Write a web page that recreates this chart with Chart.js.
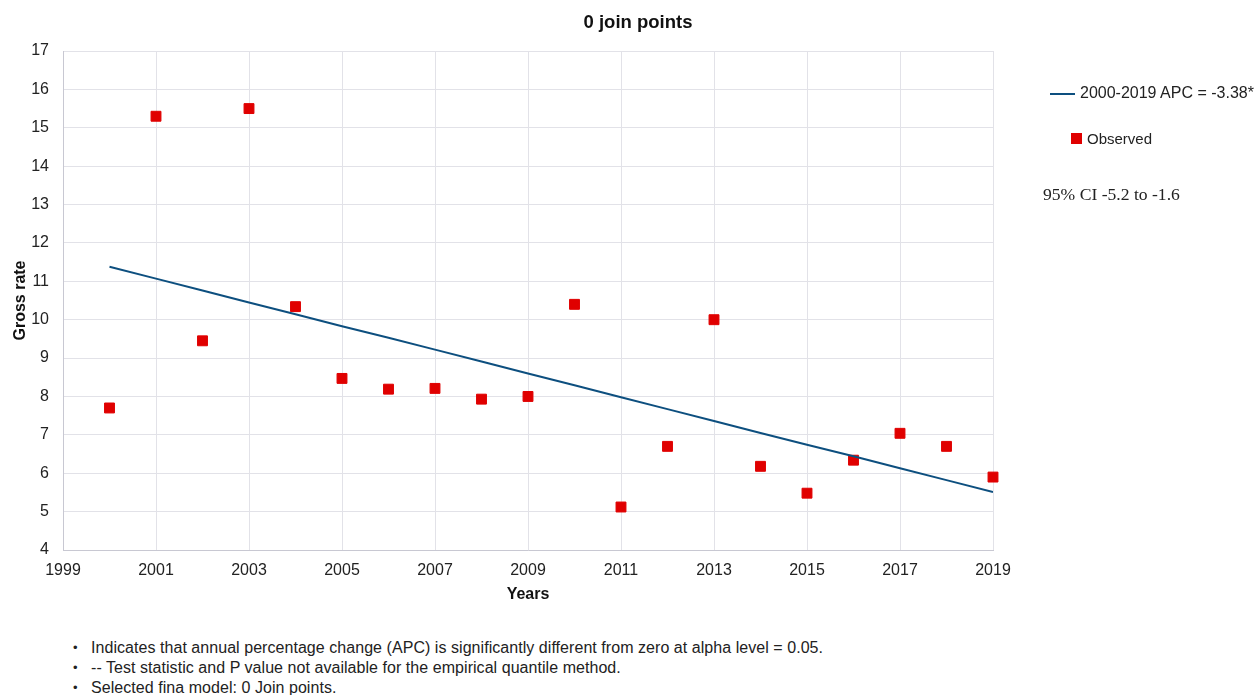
<!DOCTYPE html>
<html>
<head>
<meta charset="utf-8">
<script src="https://cdn.jsdelivr.net/npm/chart.js@4.4.1/dist/chart.umd.min.js"></script>
<style>
  html, body { margin: 0; padding: 0; background: #fff; }
  body { width: 1256px; height: 695px; position: relative; overflow: hidden;
         font-family: "Liberation Sans", Arial, sans-serif; color: #222; }
  #wrap { position: absolute; left: 0; top: 0; width: 1256px; height: 610px; }
  .title { position: absolute; left: 438px; width: 400px; top: 11px; text-align: center;
           font-size: 18.5px; font-weight: bold; color: #111; }
  .legend { position: absolute; color: #222; white-space: nowrap; line-height: 20px; }
  .legend .line { display: inline-block; width: 25px; height: 2px; background: #0d4f7f; vertical-align: middle; margin-right: 5px; }
  .legend .sq { display: inline-block; width: 11px; height: 11px; background: #e00000; vertical-align: middle; margin-right: 5px; position: relative; top: -2px; }
  .ci { position: absolute; left: 1043px; top: 184px; font-family: "Liberation Serif", "Times New Roman", serif; font-size: 17.6px; color: #222; }
  .note { position: absolute; left: 91px; font-size: 16px; line-height: 20px; color: #222; white-space: nowrap; letter-spacing: 0.05px; }
  .note::before { content: "\2022"; position: absolute; left: -18px; font-size: 13px; }
</style>
</head>
<body>
<div id="wrap"><canvas id="chart"></canvas></div>
<div class="title" id="title"></div>
<div class="legend" style="left:1050px; top:83px; font-size:16px;"><span class="line"></span>2000-2019 APC = -3.38*</div>
<div class="legend" style="left:1071px; top:129px; font-size:15px;"><span class="sq"></span>Observed</div>
<div class="ci">95% CI -5.2 to -1.6</div>
<div class="note" style="top:638px;">Indicates that annual percentage change (APC) is significantly different from zero at alpha level = 0.05.</div>
<div class="note" style="top:658px;">-- Test statistic and P value not available for the empirical quantile method.</div>
<div class="note" style="top:678px;">Selected fina model: 0 Join points.</div>
<script>
const years = [2000, 2001, 2002, 2003, 2004, 2005, 2006, 2007, 2008, 2009,
               2010, 2011, 2012, 2013, 2014, 2015, 2016, 2017, 2018, 2019];
const observed = [7.7, 15.3, 9.45, 15.5, 10.34, 8.47, 8.19, 8.21, 7.93, 8.0,
                  10.4, 5.12, 6.7, 10.0, 6.18, 5.48, 6.34, 7.04, 6.7, 5.9];
const modeled = [11.38, 11.07, 10.76, 10.45, 10.14, 9.83, 9.53, 9.22, 8.91, 8.60,
                 8.29, 7.98, 7.67, 7.36, 7.05, 6.74, 6.44, 6.13, 5.82, 5.51];
const titleText = "0 join points";
const xTitle = "Years";
const yTitle = "Gross rate";

document.getElementById("title").textContent = titleText;

Chart.defaults.font.family = "'Liberation Sans', Arial, sans-serif";
Chart.defaults.font.size = 16;
Chart.defaults.color = "#222";

const gridColor = "#e2e2e8";

new Chart(document.getElementById("chart"), {
  type: "scatter",
  data: {
    datasets: [
      {
        label: "2000-2019 APC = -3.38*",
        type: "line",
        data: years.map((y, i) => ({ x: y, y: modeled[i] })),
        borderColor: "#0d4f7f",
        borderWidth: 2,
        pointRadius: 0,
        fill: false,
        tension: 0,
      },
      {
        label: "Observed",
        data: years.map((y, i) => ({ x: y, y: observed[i] })),
        backgroundColor: "#e00000",
        borderColor: "#e00000",
        pointStyle: "rect",
        pointRadius: 7,
        pointHoverRadius: 7,
        clip: false,
      },
    ],
  },
  options: {
    responsive: true,
    maintainAspectRatio: false,
    animation: false,
    layout: { padding: { left: 0, right: 263, top: 51, bottom: 6 } },
    plugins: {
      legend: { display: false },
      tooltip: { enabled: false },
    },
    scales: {
      x: {
        type: "linear",
        min: 1999,
        max: 2019,
        ticks: { stepSize: 2, padding: 11, callback: v => String(v) },
        grid: { color: gridColor, drawTicks: false },
        border: { color: "#c8c8d2" },
        title: { display: true, text: xTitle, font: { size: 16, weight: "bold" }, color: "#111", padding: { top: 0, bottom: 0 } },
        afterFit: s => { s.height = 54; },
      },
      y: {
        min: 4,
        max: 17,
        ticks: { stepSize: 1, padding: 14 },
        grid: { color: gridColor, drawTicks: false },
        border: { color: "#c8c8d2" },
        title: { display: true, text: yTitle, font: { size: 16, weight: "bold" }, color: "#111", padding: { top: 11, bottom: 0 } },
        afterFit: s => { s.width = 63; },
      },
    },
  },
});
</script>
</body>
</html>
